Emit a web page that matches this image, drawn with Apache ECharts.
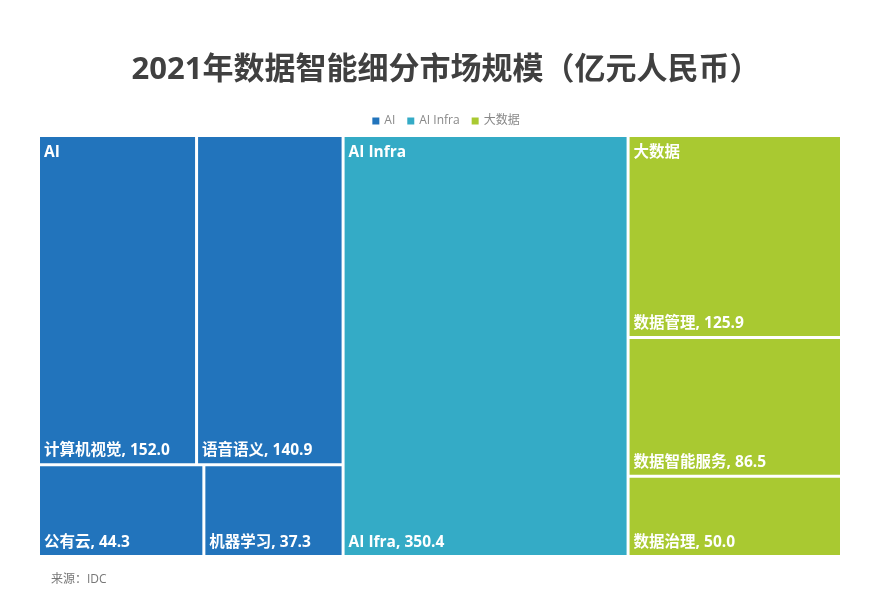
<!DOCTYPE html>
<html>
<head>
<meta charset="utf-8">
<title>2021年数据智能细分市场规模</title>
<script src="https://cdn.jsdelivr.net/npm/echarts@6/dist/echarts.min.js"></script>
<style>
  html, body { margin: 0; padding: 0; background: #fff; }
  #chart { width: 892px; height: 607px; }
</style>
</head>
<body>
<div id="chart"></div>
<script>
// groups and their segments (亿元人民币)
const groupNames = ['AI', 'AI Infra', '大数据'];
const groupColors = ['#2274bc', '#34abc6', '#a9c931'];

const aiNames = ['计算机视觉', '语音语义', '公有云', '机器学习'];
const aiValues = [152.0, 140.9, 44.3, 37.3];

const infraNames = ['AI Ifra'];
const infraValues = [350.4];

const bigDataNames = ['数据管理', '数据智能服务', '数据治理'];
const bigDataValues = [125.9, 86.5, 50.0];

const font = '"Open Sans", "Noto Sans CJK SC", sans-serif';

const groupChildren = [
  [aiNames, aiValues],
  [infraNames, infraValues],
  [bigDataNames, bigDataValues]
];

const sum = (arr) => arr.reduce((a, b) => a + b, 0);

const treeData = groupNames.map((g, i) => ({
  name: g,
  itemStyle: { color: groupColors[i] },
  children: groupChildren[i][0].map((n, j) => ({
    name: n,
    value: groupChildren[i][1][j]
  }))
}));

// group totals, only used to place the group captions
const groupData = groupNames.map((g, i) => ({
  name: g,
  value: sum(groupChildren[i][1]),
  itemStyle: { color: 'rgba(0,0,0,0)' }
}));

const box = { left: 40, top: 137, width: 800, height: 418 };
const ratio = 1.23;

const chart = echarts.init(document.getElementById('chart'));

const option = {
  backgroundColor: '#fff',
  title: [
    {
      text: '2021年数据智能细分市场规模（亿元人民币）',
      left: 'center',
      top: 50,
      textStyle: { fontSize: 31, fontWeight: 'bold', color: '#404040', fontFamily: font }
    },
    {
      text: '来源：IDC',
      left: 46,
      top: 569,
      textStyle: { fontSize: 12, fontWeight: 'normal', color: '#777', fontFamily: font }
    }
  ],
  legend: {
    top: 110,
    left: 'center',
    icon: 'rect',
    itemWidth: 7,
    itemHeight: 7,
    itemGap: 12,
    selectedMode: false,
    textStyle: { fontSize: 12, color: '#888', fontFamily: font },
    data: groupNames
  },
  series: [
    {
      type: 'treemap',
      ...box,
      roam: false,
      nodeClick: false,
      squareRatio: ratio,
      breadcrumb: { show: false },
      label: {
        show: true,
        position: 'insideBottomLeft',
        distance: 4,
        padding: 0,
        color: '#fff',
        fontSize: 15.5,
        lineHeight: 17,
        fontWeight: 'bold',
        fontFamily: font,
        formatter: (p) => p.name + ', ' + p.value.toFixed(1)
      },
      upperLabel: { show: false },
      levels: [
        { itemStyle: { borderWidth: 0, gapWidth: 3, borderColor: '#fff' } },
        { itemStyle: { borderWidth: 0, gapWidth: 3, borderColor: '#fff' } },
        { itemStyle: { borderWidth: 0 } }
      ],
      data: treeData
    },
    {
      // captions of the three groups, laid out the same way
      type: 'treemap',
      ...box,
      z: 5,
      roam: false,
      nodeClick: false,
      squareRatio: ratio,
      breadcrumb: { show: false },
      itemStyle: { borderColor: 'rgba(0,0,0,0)' },
      label: {
        show: true,
        position: 'insideTopLeft',
        distance: 4,
        padding: [3, 0, 0, 0],
        color: '#fff',
        fontSize: 15.5,
        lineHeight: 17,
        fontWeight: 'bold',
        fontFamily: font,
        formatter: '{b}'
      },
      levels: [
        { itemStyle: { borderWidth: 0, gapWidth: 3, borderColor: 'rgba(0,0,0,0)' } },
        { itemStyle: { borderWidth: 0 } }
      ],
      data: groupData
    },
    // legend entries
    ...groupNames.map((g, i) => ({
      type: 'pie',
      name: g,
      radius: 0,
      showEmptyCircle: false,
      itemStyle: { color: groupColors[i] },
      data: []
    }))
  ]
};

chart.setOption(option);
</script>
</body>
</html>
